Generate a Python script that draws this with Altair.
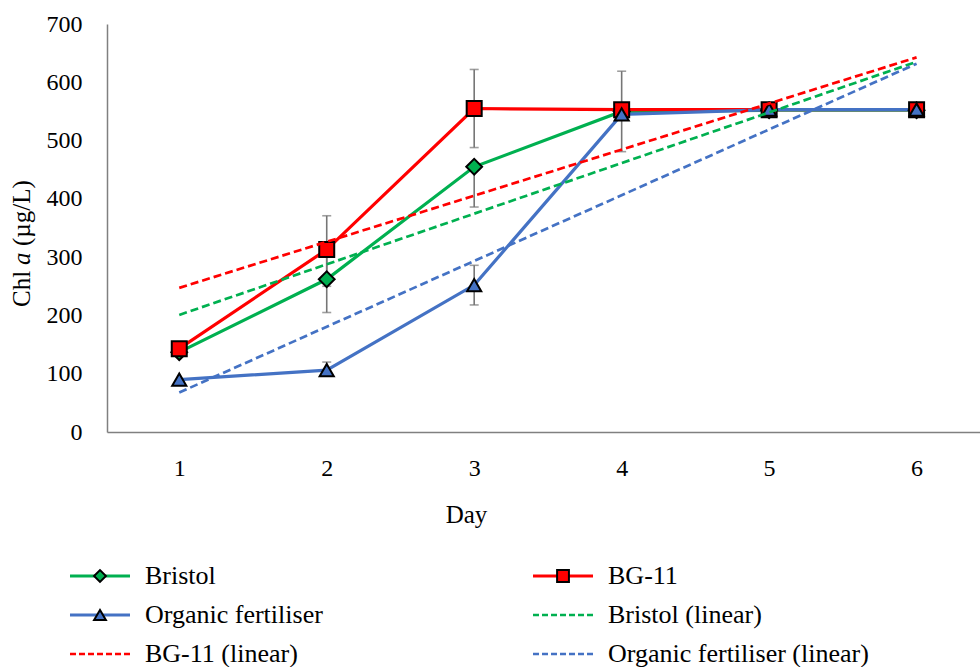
import altair as alt
import pandas as pd

# ---------------- data ----------------
days = [1, 2, 3, 4, 5, 6]
series_names = ["Bristol", "BG-11", "Organic fertiliser"]
bristol = [137, 262, 455, 550, 552, 552]
bg11 = [143, 313, 555, 553, 553, 553]
organic = [90, 106, 252, 545, 553, 553]

# error bar extents (lower / upper), None where no bar is drawn
bristol_lo = [None, 205, 386, 481, None, None]
bristol_hi = [None, 315, 455, 619, None, None]
bg11_lo = [None, 250, 488, None, None, None]
bg11_hi = [None, 371, 622, None, None, None]
organic_lo = [None, 100, 218, None, None, None]
organic_hi = [None, 120, 286, None, None, None]

colors = ["#00B050", "#FF0000", "#4472C4"]
shapes = ["diamond", "square", "triangle-up"]
y_ticks = [0, 100, 200, 300, 400, 500, 600, 700]

legend_labels = ["Bristol", "BG-11", "Organic fertiliser", "Bristol (linear)",
                 "BG-11 (linear)", "Organic fertiliser (linear)"]
legend_series = ["Bristol", "BG-11", "Organic fertiliser", "Bristol", "BG-11",
                 "Organic fertiliser"]
legend_kind = ["solid", "solid", "solid", "linear", "linear", "linear"]
legend_col = [0, 1, 0, 1, 0, 1]
legend_row = [0, 0, 1, 1, 2, 2]

y_title_parts = ["Chl", "a", "(µg/L)"]
x_title = "Day"

# ---------------- tables ----------------
rows = []
for name, vals, lo, hi in zip(series_names, [bristol, bg11, organic],
                              [bristol_lo, bg11_lo, organic_lo],
                              [bristol_hi, bg11_hi, organic_hi]):
    for d, v, l, h in zip(days, vals, lo, hi):
        rows.append({"Series": name, "Day": d, "Chl": v, "Lo": l, "Hi": h})
df = pd.DataFrame(rows)
df_err = df.dropna(subset=["Lo", "Hi"]).copy()

legend_df = pd.DataFrame({"label": legend_labels, "Series": legend_series,
                          "kind": legend_kind, "col": legend_col, "row": legend_row})

FONT = "Liberation Serif"
GRAY = "#767676"

color_scale = alt.Scale(domain=series_names, range=colors)
shape_scale = alt.Scale(domain=series_names, range=shapes)
size_scale = alt.Scale(domain=series_names, range=[250, 200, 230])

xscale = alt.Scale(domain=[0.51, 6.43], nice=False, zero=False)
yscale = alt.Scale(domain=[0, 700], nice=False)

xaxis = alt.Axis(values=days, format="d", ticks=False, grid=False, labelPadding=24,
                 labelFontSize=24, labelFont=FONT, labelColor="black",
                 title=x_title, titleFont=FONT, titleFontSize=25,
                 titleFontWeight="normal", titleColor="black",
                 titleX=359, titleY=90, titleBaseline="alphabetic",
                 titleAlign="center", domainColor="#808080", domainWidth=1.5)
yaxis = alt.Axis(values=y_ticks, ticks=False, grid=False, labelPadding=25,
                 labelFontSize=24, labelFont=FONT, labelColor="black",
                 title=None, domainColor="#808080", domainWidth=1.5)

base = alt.Chart(df).encode(
    x=alt.X("Day:Q", scale=xscale, axis=xaxis),
    y=alt.Y("Chl:Q", scale=yscale, axis=yaxis),
)

err_rule = alt.Chart(df_err).mark_rule(color=GRAY, strokeWidth=1.6).encode(
    x=alt.X("Day:Q", scale=xscale, axis=xaxis),
    y=alt.Y("Lo:Q", scale=yscale, axis=yaxis),
    y2="Hi:Q",
)
err_caps = alt.Chart(df_err).transform_fold(["Lo", "Hi"], as_=["end", "val"]).mark_tick(
    color=GRAY, orient="horizontal", size=9, thickness=1.6).encode(
    x=alt.X("Day:Q", scale=xscale, axis=xaxis),
    y=alt.Y("val:Q", scale=yscale, axis=yaxis),
)

lines = base.mark_line(strokeWidth=3.2).encode(
    color=alt.Color("Series:N", scale=color_scale, legend=None),
    detail="Series:N",
)

markers = base.mark_point(filled=True, stroke="black", strokeWidth=2, opacity=1).encode(
    fill=alt.Fill("Series:N", scale=color_scale, legend=None),
    shape=alt.Shape("Series:N", scale=shape_scale, legend=None),
    size=alt.Size("Series:N", scale=size_scale, legend=None),
)

trend = base.transform_regression("Day", "Chl", groupby=["Series"], method="linear").mark_line(
    strokeDash=[8, 4], strokeWidth=2.7).encode(
    color=alt.Color("Series:N", scale=color_scale, legend=None),
)

one = pd.DataFrame({"k": [0]})
t1 = alt.Chart(one).mark_text(angle=270, align="left", baseline="alphabetic",
                              font=FONT, fontSize=25, color="black").encode(
    x=alt.value(-77), y=alt.value(283), text=alt.value(y_title_parts[0]))
t2 = alt.Chart(one).mark_text(angle=270, align="left", baseline="alphabetic",
                              font=FONT, fontSize=25, fontStyle="italic", color="black").encode(
    x=alt.value(-77), y=alt.value(241), text=alt.value(y_title_parts[1]))
t3 = alt.Chart(one).mark_text(angle=270, align="left", baseline="alphabetic",
                              font=FONT, fontSize=25, color="black").encode(
    x=alt.value(-77), y=alt.value(222), text=alt.value(y_title_parts[2]))

main = alt.layer(err_rule, err_caps, lines, markers, trend, t1, t2, t3).properties(
    width=873, height=408)

# ---------------- legend panel ----------------
lx = alt.X("col:Q", scale=alt.Scale(domain=[0.01512, 1.9006], nice=False, zero=False), axis=None)
ly = alt.Y("row:Q", scale=alt.Scale(domain=[-1, 2.1795], nice=False, zero=False, reverse=True), axis=None)
lbase = alt.Chart(legend_df).encode(x=lx, y=ly)

leg_solid = lbase.transform_filter(alt.datum.kind == "solid").mark_rule(
    strokeWidth=3, xOffset=-30, x2Offset=30).encode(
    x2="col:Q", color=alt.Color("Series:N", scale=color_scale, legend=None))
leg_dash = lbase.transform_filter(alt.datum.kind == "linear").mark_rule(
    strokeWidth=2.7, strokeDash=[6, 3], xOffset=-30, x2Offset=30).encode(
    x2="col:Q", color=alt.Color("Series:N", scale=color_scale, legend=None))
leg_pts = lbase.transform_filter(alt.datum.kind == "solid").mark_point(
    filled=True, stroke="black", strokeWidth=2, opacity=1, size=140).encode(
    fill=alt.Fill("Series:N", scale=color_scale, legend=None),
    shape=alt.Shape("Series:N", scale=shape_scale, legend=None))
leg_txt = lbase.mark_text(align="left", baseline="middle", dx=45, font=FONT,
                          fontSize=26, color="black").encode(text="label:N")

legend = alt.layer(leg_solid, leg_dash, leg_pts, leg_txt).properties(width=873, height=124)

chart = alt.vconcat(main, legend, spacing=10).resolve_scale(
    x="independent", y="independent").properties(
    padding={"left": 10, "top": 12, "right": 0, "bottom": 0},
    background="white",
).configure_view(stroke=None)

chart.save("out.html", embed_options={"renderer": "svg", "actions": False})
